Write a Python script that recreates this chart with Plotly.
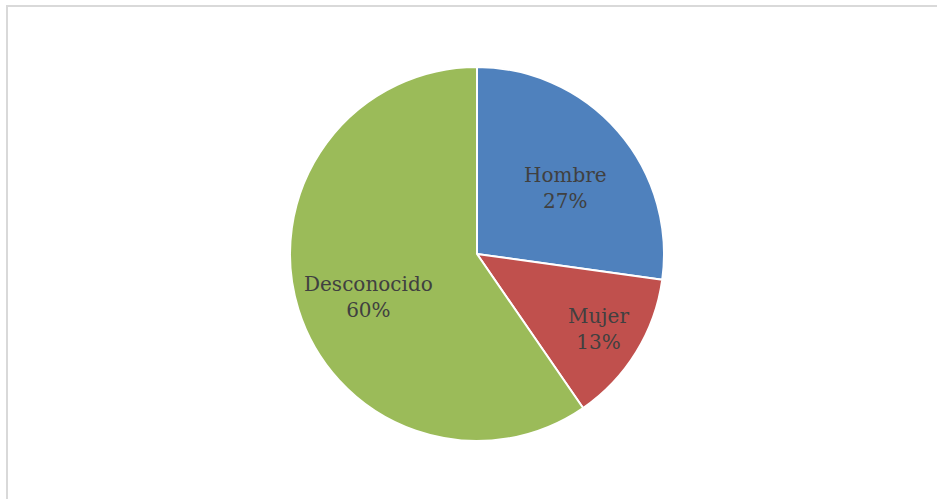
import plotly.graph_objects as go

labels = ["Hombre", "Mujer", "Desconocido"]
values = [27.2, 13.2, 59.6]
colors = ["#4F81BD", "#C0504D", "#9BBB59"]
# label centres (pixels) as placed in the reference
label_px = [(565, 188), (598, 329), (368, 297)]

W, H = 938, 499

fig = go.Figure(go.Pie(
    labels=labels,
    values=values,
    sort=False,
    direction="clockwise",
    rotation=0,
    marker=dict(colors=colors, line=dict(color="white", width=2)),
    textinfo="none",
    domain=dict(x=[290/W, 664/W], y=[1-441/H, 1-67/H]),
    showlegend=False,
    hoverinfo="label+percent",
))

total = sum(values)
annotations = []
for lab, val, (px, py) in zip(labels, values, label_px):
    annotations.append(dict(
        x=px/W, y=1-py/H, xref="paper", yref="paper",
        xanchor="center", yanchor="middle", showarrow=False,
        text=f"{lab}<br>{round(100*val/total)}%",
        font=dict(family="DejaVu Serif", size=20, color="#404040"),
    ))

fig.update_layout(
    width=W, height=H,
    margin=dict(l=0, r=0, t=0, b=0),
    paper_bgcolor="white",
    plot_bgcolor="white",
    annotations=annotations,
    shapes=[
        dict(type="line", xref="paper", yref="paper", x0=6.5/W, x1=937/W, y0=1-6/H, y1=1-6/H,
             line=dict(color="#D9D9D9", width=2)),
        dict(type="line", xref="paper", yref="paper", x0=7/W, x1=7/W, y0=0, y1=1-5/H,
             line=dict(color="#D9D9D9", width=2)),
    ],
)

fig.write_html("out.html", config={"displayModeBar": False},
               post_script="document.body.style.margin='0';document.body.style.overflow='hidden';")
